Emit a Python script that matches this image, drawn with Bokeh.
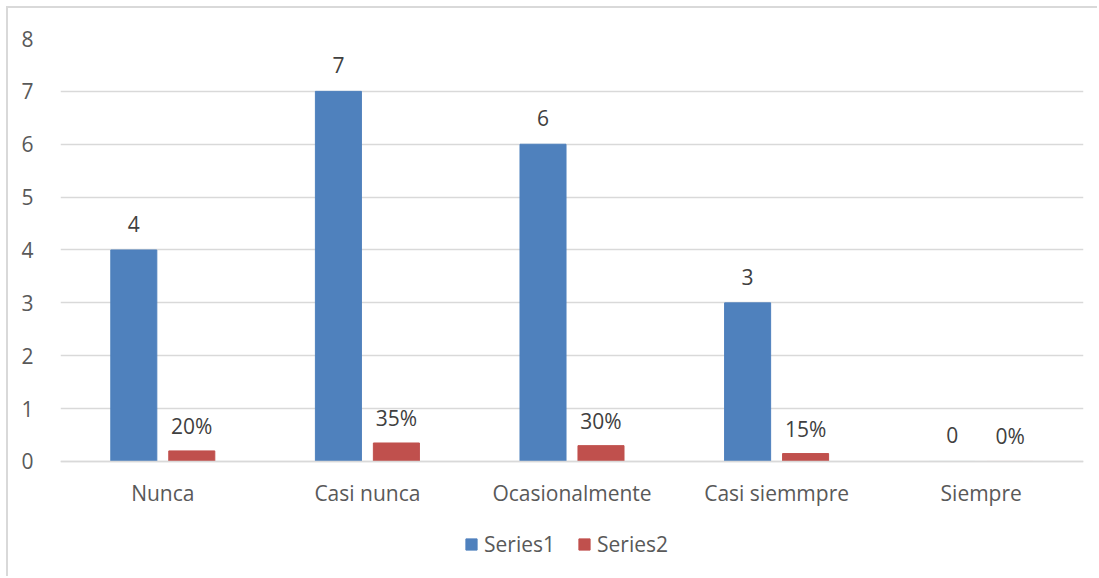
from bokeh.plotting import figure
from bokeh.models import ColumnDataSource, Legend, LegendItem, FactorRange
from bokeh.transform import dodge
from bokeh.core.properties import value
from bokeh.embed import file_html
from bokeh.resources import INLINE

categories = ["Nunca", "Casi nunca", "Ocasionalmente", "Casi siemmpre", "Siempre"]
series1 = [4, 7, 6, 3, 0]
series2 = [0.20, 0.35, 0.30, 0.15, 0.0]
series1_labels = ["4", "7", "6", "3", "0"]
series2_labels = ["20%", "35%", "30%", "15%", "0%"]
y_ticks = [0, 1, 2, 3, 4, 5, 6, 7, 8]

FONT = "Open Sans"
BLUE = "#4F81BD"
RED = "#C0504D"
FS = "21px"

src = ColumnDataSource(dict(cat=categories, s1=series1, s2=series2,
                            l1=series1_labels, l2=series2_labels))

# frame extends below zero so the category axis and legend sit inside it
p = figure(x_range=FactorRange(*categories), y_range=(-2.213, 8),
           width=1091, height=570, output_backend="svg", toolbar_location=None,
           min_border_left=52, min_border_right=16, min_border_top=30, min_border_bottom=0)
p.margin = (6, 0, 0, 6)
p.styles = {"border-left": "2px solid #d9d9d9", "border-top": "2px solid #d9d9d9"}
p.x_range.range_padding = 0

off = 0.1417
bw = 0.225
r1 = p.vbar(x=dodge("cat", -off, range=p.x_range), top="s1", width=bw, source=src, color=BLUE)
r2 = p.vbar(x=dodge("cat", off, range=p.x_range), top="s2", width=bw, source=src, color=RED)

p.text(x=dodge("cat", -off, range=p.x_range), y="s1", text="l1", source=src,
       text_align="center", text_baseline="middle", y_offset=-26,
       text_font=value(FONT), text_font_size=FS, text_color="#404040")
p.text(x=dodge("cat", off, range=p.x_range), y="s2", text="l2", source=src,
       text_align="center", text_baseline="middle", y_offset=-25,
       text_font=value(FONT), text_font_size=FS, text_color="#404040")

p.outline_line_color = None
p.xgrid.grid_line_color = None
p.ygrid.grid_line_color = "#d9d9d9"
p.ygrid.grid_line_width = 1.5
p.yaxis.ticker = y_ticks
p.yaxis.axis_line_color = None
p.yaxis.major_tick_line_color = None
p.yaxis.minor_tick_line_color = None
p.yaxis.major_label_standoff = 21
p.xaxis.fixed_location = 0
p.xaxis.axis_line_color = "#d9d9d9"
p.xaxis.axis_line_width = 1.5
p.xaxis.major_tick_line_color = None
p.xaxis.major_label_standoff = 12
for ax in (p.xaxis, p.yaxis):
    ax.major_label_text_font = FONT
    ax.major_label_text_font_size = FS
    ax.major_label_text_color = "#595959"

legend = Legend(items=[LegendItem(label="Series1", renderers=[r1]),
                       LegendItem(label="Series2", renderers=[r2])],
                orientation="horizontal", location=(404, 20),
                label_text_font=FONT, label_text_font_size=FS,
                label_text_color="#595959", glyph_width=14, glyph_height=14,
                label_standoff=6, spacing=22, border_line_color=None,
                background_fill_alpha=0, padding=4, margin=0)
p.add_layout(legend, "center")

open("out.html", "w").write(file_html(p, INLINE))
